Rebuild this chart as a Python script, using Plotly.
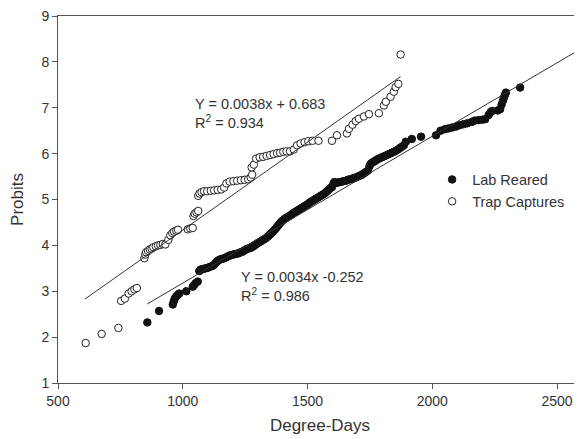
import plotly.graph_objects as go

# ---- data ----
lab_x = [858, 905, 960, 964, 968, 974, 980, 986, 1014, 1040, 1046, 1052, 1060,
         1066, 1071, 1077, 1084, 1092, 1100, 1108, 1118, 1126, 1132, 1137, 1142,
         1148, 1154, 1160, 1167, 1174, 1181, 1188, 1195, 1202, 1210, 1218, 1225,
         1232, 1238, 1244, 1250, 1256, 1262, 1268, 1274, 1280, 1286, 1292, 1298,
         1304, 1310, 1316, 1322, 1328, 1334, 1340, 1346, 1352, 1358, 1364, 1370,
         1376, 1382, 1388, 1394, 1400, 1406, 1412, 1418, 1424, 1430, 1436, 1442,
         1448, 1454, 1460, 1466, 1472, 1478, 1484, 1490, 1496, 1502, 1508, 1514,
         1520, 1526, 1532, 1538, 1544, 1550, 1556, 1562, 1568, 1574, 1580, 1586,
         1592, 1598, 1604, 1608, 1614, 1622, 1630, 1638, 1646, 1654, 1662, 1670,
         1678, 1686, 1694, 1702, 1710, 1718, 1726, 1734, 1742, 1748, 1752, 1758,
         1764, 1770, 1776, 1782, 1790, 1798, 1806, 1814, 1822, 1830, 1838, 1846,
         1854, 1862, 1870, 1878, 1886, 1894, 1918, 1955, 2015, 2033, 2050, 2065,
         2080, 2095, 2110, 2125, 2140, 2158, 2170, 2185, 2200, 2212, 2226, 2233,
         2240, 2262, 2272, 2278, 2283, 2287, 2291, 2295, 2352]
lab_y = [2.32, 2.57, 2.71, 2.78, 2.84, 2.89, 2.92, 2.95, 3.00, 3.10, 3.14, 3.18, 3.21,
         3.44, 3.47, 3.48, 3.49, 3.50, 3.51, 3.53, 3.55, 3.58, 3.62, 3.65, 3.67,
         3.69, 3.70, 3.71, 3.72, 3.74, 3.76, 3.78, 3.79, 3.80, 3.81, 3.82, 3.83,
         3.85, 3.86, 3.88, 3.90, 3.92, 3.93, 3.94, 3.95, 3.97, 3.99, 4.02, 4.04,
         4.06, 4.08, 4.10, 4.12, 4.14, 4.16, 4.19, 4.22, 4.25, 4.28, 4.31, 4.35,
         4.39, 4.43, 4.47, 4.51, 4.54, 4.57, 4.59, 4.61, 4.63, 4.65, 4.67, 4.70,
         4.72, 4.74, 4.76, 4.78, 4.80, 4.82, 4.84, 4.86, 4.88, 4.90, 4.93, 4.95,
         4.97, 4.99, 5.01, 5.03, 5.05, 5.07, 5.09, 5.11, 5.13, 5.16, 5.19, 5.22,
         5.25, 5.27, 5.35, 5.38, 5.36, 5.37, 5.38, 5.39, 5.40, 5.41, 5.43, 5.44,
         5.45, 5.47, 5.48, 5.50, 5.52, 5.54, 5.57, 5.60, 5.63, 5.72, 5.77, 5.80,
         5.82, 5.84, 5.86, 5.88, 5.90, 5.92, 5.94, 5.96, 5.98, 6.00, 6.02, 6.04,
         6.06, 6.09, 6.12, 6.15, 6.18, 6.26, 6.32, 6.37, 6.40, 6.50, 6.53, 6.55,
         6.57, 6.59, 6.62, 6.64, 6.66, 6.69, 6.72, 6.73, 6.74, 6.75, 6.84, 6.90,
         6.93, 6.94, 6.97, 7.07, 7.15, 7.22, 7.28, 7.33, 7.44]

trap_x = [611, 675, 742, 753, 768, 783, 795, 806, 816, 846, 850, 853, 861, 868,
          875, 882, 892, 901, 910, 920, 930, 942, 950, 958, 965, 974, 981, 1020,
          1030, 1040, 1043, 1048, 1055, 1062, 1062, 1067, 1075, 1085, 1098, 1112,
          1126, 1140, 1154, 1166, 1175, 1188, 1203, 1218, 1233, 1248, 1262, 1272,
          1278, 1276, 1285, 1294, 1308, 1322, 1336, 1350, 1364, 1378, 1390, 1403,
          1416, 1430, 1445, 1458, 1472, 1488, 1503, 1520, 1544, 1598, 1618, 1658,
          1666, 1680, 1693, 1706, 1726, 1746, 1786, 1806, 1814, 1833, 1846, 1853,
          1864, 1873]
trap_y = [1.87, 2.07, 2.20, 2.79, 2.84, 2.95, 3.00, 3.04, 3.07, 3.72, 3.80, 3.85, 3.88, 3.91,
          3.93, 3.96, 3.98, 4.00, 4.01, 4.03, 4.02, 4.12, 4.22, 4.27, 4.30, 4.32, 4.34, 4.35,
          4.37, 4.38, 4.64, 4.69, 4.72, 4.75, 5.08, 5.13, 5.16, 5.18, 5.18, 5.19,
          5.20, 5.21, 5.22, 5.26, 5.35, 5.39, 5.40, 5.41, 5.42, 5.43, 5.44, 5.48,
          5.54, 5.70, 5.76, 5.89, 5.92, 5.93, 5.95, 5.97, 5.99, 6.01, 6.02, 6.04,
          6.05, 6.05, 6.09, 6.18, 6.22, 6.25, 6.27, 6.28, 6.28, 6.28, 6.40, 6.44,
          6.54, 6.63, 6.71, 6.76, 6.81, 6.86, 6.88, 7.05, 7.13, 7.24, 7.35, 7.45,
          7.52, 8.16]

# regression lines as drawn
lab_fit_x = [857, 2600]
lab_fit_y = [2.72, 8.30]
trap_fit_x = [608, 1873]
trap_fit_y = [2.83, 7.68]

x_ticks = [500, 1000, 1500, 2000, 2500]
y_ticks = [1, 2, 3, 4, 5, 6, 7, 8, 9]

lab_eq = "Y = 0.0034x -0.252<br>R<sup>2</sup> = 0.986"
trap_eq = "Y = 0.0038x + 0.683<br>R<sup>2</sup> = 0.934"

FONT = "Liberation Sans, Arial, sans-serif"
TXT = "#333333"
AX = "#555555"

fig = go.Figure()
fig.add_trace(go.Scatter(x=lab_x, y=lab_y, mode="markers", name="Lab Reared",
                         marker=dict(symbol="circle", size=7.5, color="#111111",
                                     line=dict(color="#111111", width=1))))
fig.add_trace(go.Scatter(x=trap_x, y=trap_y, mode="markers", name="Trap Captures",
                         marker=dict(symbol="circle", size=7.5, color="white",
                                     line=dict(color="#222222", width=1))))
fig.add_trace(go.Scatter(x=trap_fit_x, y=trap_fit_y, mode="lines", showlegend=False,
                         line=dict(color="#333333", width=1), hoverinfo="skip"))
fig.add_trace(go.Scatter(x=lab_fit_x, y=lab_fit_y, mode="lines", showlegend=False,
                         line=dict(color="#333333", width=1), hoverinfo="skip"))

fig.add_annotation(x=1041, y=7.30, xref="x", yref="y", xanchor="left", yanchor="top",
                   text=trap_eq, showarrow=False, align="left",
                   font=dict(family=FONT, size=14.5, color=TXT))
fig.add_annotation(x=1227, y=3.52, xref="x", yref="y", xanchor="left", yanchor="top",
                   text=lab_eq, showarrow=False, align="left",
                   font=dict(family=FONT, size=14.5, color=TXT))

fig.update_layout(
    width=574, height=431,
    margin=dict(l=50, r=0, t=6, b=56),
    paper_bgcolor="white", plot_bgcolor="white",
    font=dict(family=FONT, color=TXT),
    legend=dict(x=0.714, y=0.598, xanchor="left", yanchor="top",
                bgcolor="rgba(0,0,0,0)", font=dict(family=FONT, size=14.5, color=TXT),
                tracegroupgap=0),
    xaxis=dict(range=[500, 2600], tickvals=x_ticks, showgrid=False, zeroline=False,
               showline=True, linecolor=AX, linewidth=1, mirror=True,
               ticks="outside", ticklen=5, tickcolor=AX, ticklabeloverflow="allow",
               tickfont=dict(family=FONT, size=14, color=TXT),
               title=dict(text="Degree-Days", font=dict(family=FONT, size=17, color=TXT),
                          standoff=11)),
    yaxis=dict(range=[1, 9], tickvals=y_ticks, showgrid=False, zeroline=False,
               showline=True, linecolor=AX, linewidth=1,
               ticks="outside", ticklen=5, tickcolor=AX, ticklabeloverflow="allow",
               tickfont=dict(family=FONT, size=14, color=TXT),
               title=dict(text="Probits", font=dict(family=FONT, size=17, color=TXT),
                          standoff=18)),
)

fig.write_html("out.html")
